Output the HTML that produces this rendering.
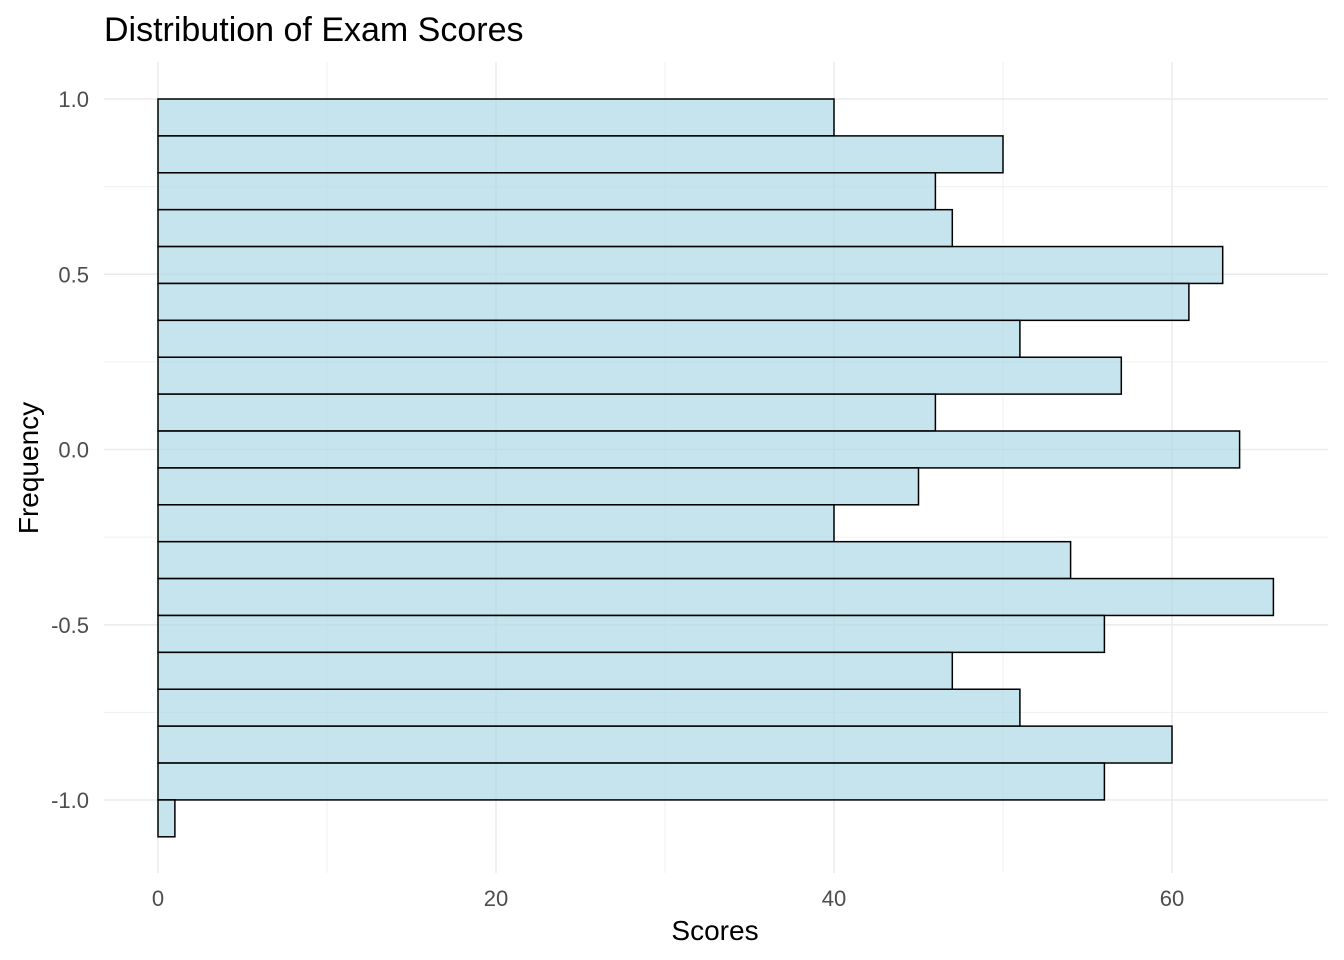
<!DOCTYPE html>
<html><head><meta charset="utf-8"><style>
html,body{margin:0;padding:0;background:#fff;}
svg{display:block;font-family:"Liberation Sans",Arial,sans-serif;}
</style></head><body>
<svg id="chart" width="1344" height="960">
<text x="104" y="41" font-size="34" fill="#000">Distribution of Exam Scores</text>
<g id="grid"></g><g id="bars"></g><g id="ticks"></g>
<text x="715" y="940" font-size="28" text-anchor="middle" fill="#000">Scores</text>
<text transform="translate(38,468) rotate(-90)" font-size="28" text-anchor="middle" fill="#000">Frequency</text>
</svg>
<script>
const counts = [40,50,46,47,63,61,51,57,46,64,45,40,54,66,56,47,51,60,56,1];
const binTop = 1.0;
const binWidth = 2.105/20;
const xTicks = [0,20,40,60];
const xMinor = [10,30,50,70];
const yTicks = [1.0,0.5,0.0,-0.5,-1.0];
const yTickLabels = ["1.0","0.5","0.0","-0.5","-1.0"];
const yMinor = [0.75,0.25,-0.25,-0.75];

const L=104,R=1328,T=62,B=873;
const sx=v=>158+v*16.9;
const sy=v=>449.5-v*350.5;
const NS="http://www.w3.org/2000/svg";
function mk(tag,attrs,parent){const e=document.createElementNS(NS,tag);for(const k in attrs)e.setAttribute(k,attrs[k]);parent.appendChild(e);return e;}
const grid=document.getElementById('grid'),bars=document.getElementById('bars'),ticks=document.getElementById('ticks');
xMinor.forEach(v=>{const x=sx(v);if(x>R)return;const l=mk('line',{x1:x,x2:x,y1:T,y2:B,stroke:'#f0f0f0','stroke-width':1},grid);

});
yMinor.forEach(v=>{const y=sy(v);const l=mk('line',{x1:L,x2:R,y1:y,y2:y,stroke:'#f0f0f0','stroke-width':1},grid);

});
xTicks.forEach(v=>{const x=sx(v);const l=mk('line',{x1:x,x2:x,y1:T,y2:B,stroke:'#ebebeb','stroke-width':1.5},grid);


const t=mk('text',{x:x,y:906,'font-size':22,'text-anchor':'middle',fill:'#4d4d4d'},ticks);t.textContent=v;

});
yTicks.forEach((v,i)=>{const y=sy(v);const l=mk('line',{x1:L,x2:R,y1:y,y2:y,stroke:'#ebebeb','stroke-width':1.5},grid);


const t=mk('text',{x:89,y:y+8,'font-size':22,'text-anchor':'end',fill:'#4d4d4d'},ticks);t.textContent=yTickLabels[i];

});
counts.forEach((c,i)=>{const top=sy(binTop-i*binWidth),bot=sy(binTop-(i+1)*binWidth);
const r=mk('rect',{x:sx(0),y:top,width:sx(c)-sx(0),height:bot-top,fill:'rgba(173,216,230,0.7)',stroke:'#000','stroke-width':1.5},bars);

});
</script>
</body></html>
